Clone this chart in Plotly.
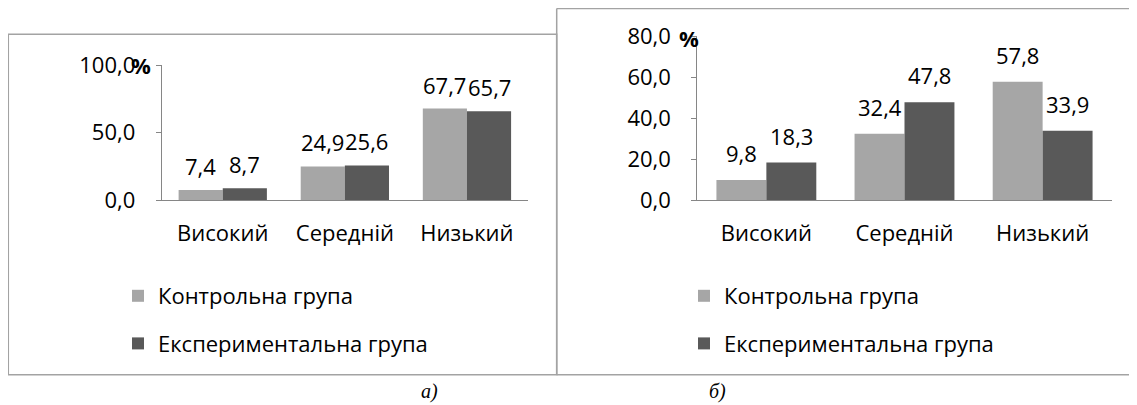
import plotly.graph_objects as go

# ---------------- data ----------------
categories = ["Високий", "Середній", "Низький"]
series_names = ["Контрольна група", "Експериментальна група"]

control_a = [7.4, 24.9, 67.7]
experimental_a = [8.7, 25.6, 65.7]

control_b = [9.8, 32.4, 57.8]
experimental_b = [18.3, 47.8, 33.9]

ticks_a = [0, 50, 100]
ticks_b = [0, 20, 40, 60, 80]

captions = ["а)", "б)"]

# ---------------- styles ----------------
# the page body has an 8px margin, so the figure is drawn from (8, 8)
OX, OY = 8, 8
W, H = 1129, 397
LIGHT = "#A6A6A6"
DARK = "#595959"
AXIS = "#868686"
BORDER = "#A3A3A3"
FONT = "Open Sans"
FS = 22
BARGAP = 0.277


def px(x):
    return (x - OX) / W


def py(y):
    return 1 - (y - OY) / H


def fmt(v):
    return f"{v:.1f}".replace(".", ",")


fig = go.Figure()

panels = [
    dict(ctrl=control_a, exp=experimental_a, xa="x", ya="y", leg="legend", g="1", shift=24),
    dict(ctrl=control_b, exp=experimental_b, xa="x2", ya="y2", leg="legend2", g="2", shift=27),
]

for p in panels:
    for vals, name, col, key in [(p["ctrl"], series_names[0], LIGHT, "k"),
                                 (p["exp"], series_names[1], DARK, "e")]:
        fig.add_trace(go.Bar(
            x=categories, y=vals, name=name, marker=dict(color=col, line=dict(width=0)),
            xaxis=p["xa"], yaxis=p["ya"], legend=p["leg"], legendgroup=key + p["g"],
            hoverinfo="skip",
        ))

# data labels
bw = (1 - BARGAP) / 2
annotations = []
for p in panels:
    for vals, off in [(p["ctrl"], -bw / 2), (p["exp"], bw / 2)]:
        for i, v in enumerate(vals):
            annotations.append(dict(
                x=i + off, y=v, xref=p["xa"], yref=p["ya"], text=fmt(v),
                showarrow=False, yanchor="middle", yshift=p["shift"],
                font=dict(family=FONT, size=FS, color="black"),
            ))

# percent signs near the axis tops
annotations.append(dict(x=px(141), y=py(65), xref="paper", yref="paper", text="<b>%</b>",
                        showarrow=False, xanchor="center", yanchor="middle",
                        font=dict(family=FONT, size=FS, color="black")))
annotations.append(dict(x=px(689), y=py(38), xref="paper", yref="paper", text="<b>%</b>",
                        showarrow=False, xanchor="center", yanchor="middle",
                        font=dict(family=FONT, size=FS, color="black")))

# captions
for cx, t in zip([430, 717], captions):
    annotations.append(dict(x=px(cx), y=py(391), xref="paper", yref="paper", text=t,
                            showarrow=False, xanchor="center", yanchor="middle",
                            font=dict(family="Liberation Serif", size=20, color="black",
                                      style="italic")))

shapes = [
    # left box
    dict(type="rect", xref="paper", yref="paper", x0=px(8.3), x1=px(556.7),
         y0=py(374.7), y1=py(34.3), line=dict(color=BORDER, width=1.5)),
    # right box (open on the right)
    dict(type="line", xref="paper", yref="paper", x0=px(556.7), x1=px(1145),
         y0=py(8.6), y1=py(8.6), line=dict(color=BORDER, width=1.5)),
    dict(type="line", xref="paper", yref="paper", x0=px(556.7), x1=px(556.7),
         y0=py(8.6), y1=py(374.7), line=dict(color=BORDER, width=1.5)),
    dict(type="line", xref="paper", yref="paper", x0=px(556.7), x1=px(1145),
         y0=py(374.7), y1=py(374.7), line=dict(color=BORDER, width=1.5)),
]

xcommon = dict(showline=True, linecolor=AXIS, linewidth=1, ticks="", showgrid=False,
               zeroline=False, tickfont=dict(family=FONT, size=FS, color="black"),
               ticklabelstandoff=14, fixedrange=True, automargin=False)
ycommon = dict(showline=True, linecolor=AXIS, linewidth=1, ticks="outside", ticklen=5,
               tickcolor=AXIS, showgrid=False, zeroline=False, tickformat=".1f",
               tickfont=dict(family=FONT, size=FS, color="black"),
               ticklabelstandoff=16, fixedrange=True, automargin=False)

legcommon = dict(font=dict(family=FONT, size=FS, color="black"), bgcolor="rgba(0,0,0,0)",
                 xref="container", yref="container",
                 xanchor="left", yanchor="top", traceorder="grouped", tracegroupgap=16,
                 itemclick=False, itemdoubleclick=False)

fig.update_layout(
    width=W, height=H,
    margin=dict(l=0, r=0, t=0, b=0, autoexpand=False),
    paper_bgcolor="white", plot_bgcolor="white",
    separators=", ",
    barmode="group", bargap=BARGAP, bargroupgap=0,
    xaxis=dict(domain=[px(161.7), px(528)], anchor="y", **xcommon),
    yaxis=dict(domain=[py(200), py(65)], anchor="x", range=[0, 100], tickvals=ticks_a, **ycommon),
    xaxis2=dict(domain=[px(697.3), px(1111.7)], anchor="y2", **xcommon),
    yaxis2=dict(domain=[py(200), py(36.4)], anchor="x2", range=[0, 80], tickvals=ticks_b, **ycommon),
    legend=dict(x=px(118), y=py(275), **legcommon),
    legend2=dict(x=px(684), y=py(275), **legcommon),
    annotations=annotations,
    shapes=shapes,
    showlegend=True,
)

fig.write_html("out.html")
